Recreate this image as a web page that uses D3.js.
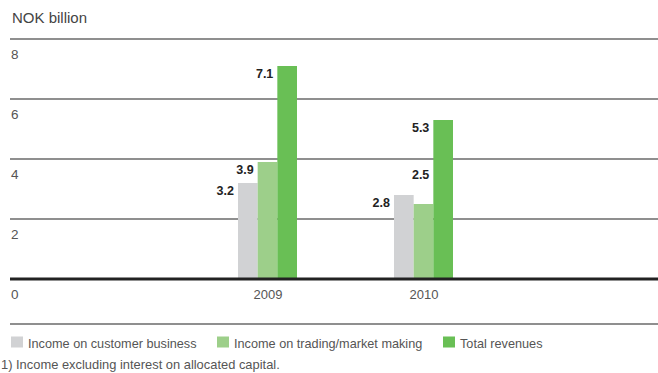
<!DOCTYPE html>
<html>
<head>
<meta charset="utf-8">
<script src="https://cdn.jsdelivr.net/npm/d3@7"></script>
<style>
  html, body { margin: 0; padding: 0; background: #fff; }
  svg { display: block; font-family: "Liberation Sans", Arial, sans-serif; }
</style>
</head>
<body>
<svg id="chart" width="658" height="373"></svg>
<script>
const years = ["2009", "2010"];
const seriesNames = ["Income on customer business", "Income on trading/market making", "Total revenues"];
const customerBusiness = [3.2, 2.8];
const tradingMarketMaking = [3.9, 2.5];
const totalRevenues = [7.1, 5.3];
const yTicks = [0, 2, 4, 6, 8];
const unitLabel = "NOK billion";
const footnote = "1) Income excluding interest on allocated capital.";

(function () {
const colors = ["#d1d2d4", "#9dcf8a", "#69bf55"];
const seriesValues = [customerBusiness, tradingMarketMaking, totalRevenues];

const svg = d3.select("#chart");
const plotLeft = 10, plotRight = 658, plotTop = 39, plotBottom = 279;

const y = d3.scaleLinear().domain([0, 8]).range([plotBottom, plotTop]);
const x = d3.scaleBand().domain(years).range([189.5, 501.5]).padding(0);
const xs = d3.scaleBand().domain(d3.range(seriesNames.length)).range([-29.5, 29.5]).padding(0);

// unit label
svg.append("text").attr("x", 12).attr("y", 23)
  .attr("font-size", 15).attr("fill", "#444").text(unitLabel);

// gridlines
svg.append("g").selectAll("line").data(yTicks.filter(d => d > 0)).join("line")
  .attr("x1", plotLeft).attr("x2", plotRight)
  .attr("y1", d => y(d)).attr("y2", d => y(d))
  .attr("stroke", "#6a6a6a").attr("stroke-width", 1.5);

// y tick labels (below lines)
svg.append("g").selectAll("text").data(yTicks).join("text")
  .attr("x", 11).attr("y", d => y(d) + 20)
  .attr("font-size", 13.5).attr("fill", "#555").text(d => d);

// bars
const bars = [];
years.forEach((yr, i) => {
  seriesValues.forEach((vals, s) => {
    bars.push({ year: yr, s, v: vals[i], i });
  });
});

const gBars = svg.append("g");
gBars.selectAll("rect").data(bars).join("rect")
  .attr("x", d => x(d.year) + x.bandwidth() / 2 + xs(d.s))
  .attr("y", d => y(d.v))
  .attr("width", xs.bandwidth())
  .attr("height", d => y(0) - y(d.v))
  .attr("fill", d => colors[d.s]);

// value labels
gBars.selectAll("text").data(bars).join("text")
  .attr("text-anchor", "end")
  .attr("font-size", 12.5).attr("font-weight", "bold").attr("fill", "#222")
  .attr("x", d => {
    const bx = x(d.year) + x.bandwidth() / 2 + xs(d.s);
    const prev = d.s > 0 ? seriesValues[d.s - 1][d.i] : -Infinity;
    return prev > d.v ? bx + xs.bandwidth() - 4 : bx - 4;
  })
  .attr("y", d => {
    const prev = d.s > 0 ? seriesValues[d.s - 1][d.i] : -Infinity;
    return prev > d.v ? y(d.v) - 25.5 : y(d.v) + 12;
  })
  .text(d => d.v.toFixed(1));

// baseline
svg.append("line").attr("x1", plotLeft).attr("x2", plotRight)
  .attr("y1", y(0)).attr("y2", y(0))
  .attr("stroke", "#222").attr("stroke-width", 3);

// x labels
svg.append("g").selectAll("text").data(years).join("text")
  .attr("x", d => x(d) + x.bandwidth() / 2 + 0.5).attr("y", 299)
  .attr("text-anchor", "middle").attr("font-size", 13).attr("fill", "#555")
  .text(d => d);

// separator
svg.append("line").attr("x1", plotLeft).attr("x2", plotRight)
  .attr("y1", 324).attr("y2", 324)
  .attr("stroke", "#6a6a6a").attr("stroke-width", 1.5);

// legend
const legendX = [11, 217, 443];
const lg = svg.append("g").selectAll("g").data(seriesNames).join("g")
  .attr("transform", (d, i) => `translate(${legendX[i]},0)`);
lg.append("rect").attr("x", 0).attr("y", 336.5).attr("width", 12).attr("height", 11)
  .attr("fill", (d, i) => colors[i]);
lg.append("text").attr("x", 17).attr("y", 347.5)
  .attr("font-size", 12.7).attr("fill", "#555").text(d => d);

// footnote
svg.append("text").attr("x", 1).attr("y", 369)
  .attr("font-size", 12.9).attr("fill", "#555").text(footnote);
})();
</script>
</body>
</html>
